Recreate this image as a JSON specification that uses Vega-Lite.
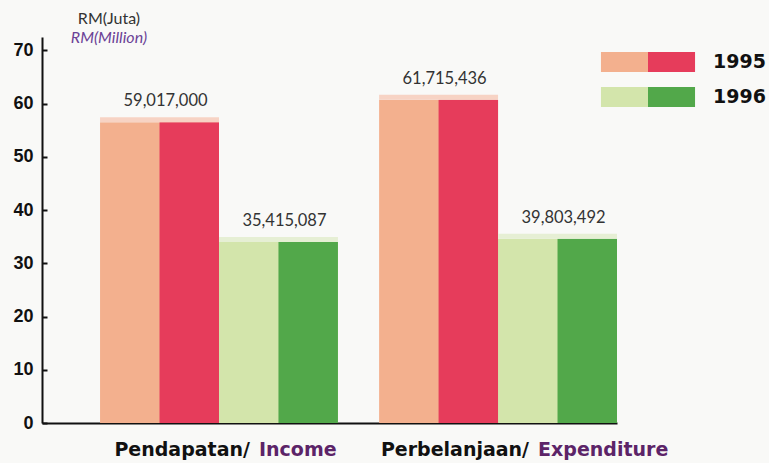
{
  "$schema": "https://vega.github.io/schema/vega-lite/v6.json",
  "width": 575,
  "height": 386,
  "autosize": {"type": "none"},
  "padding": {"left": 42, "top": 37, "right": 152, "bottom": 40},
  "background": "#f9f9f7",
  "config": {"view": {"stroke": null}, "axis": {"grid": false}},
  "title": {
    "text": "RM(Juta)",
    "subtitle": "RM(Million)",
    "frame": "group",
    "anchor": "start",
    "align": "center",
    "dx": 67,
    "offset": -9,
    "font": "Lato",
    "fontSize": 16,
    "fontWeight": "normal",
    "color": "#333333",
    "subtitleFont": "Lato",
    "subtitleFontSize": 16,
    "subtitleFontStyle": "italic",
    "subtitleColor": "#6b4296",
    "subtitlePadding": 3
  },
  "datasets": {
    "bars": [
      {"kategori": "Pendapatan", "year": "1995", "bar": 56.5, "amount": 59017000},
      {"kategori": "Pendapatan", "year": "1996", "bar": 34.0, "amount": 35415087},
      {"kategori": "Perbelanjaan", "year": "1995", "bar": 60.7, "amount": 61715436},
      {"kategori": "Perbelanjaan", "year": "1996", "bar": 34.6, "amount": 39803492}
    ],
    "labels": [
      {"kategori": "Pendapatan", "ms": "Pendapatan/", "en": "Income"},
      {"kategori": "Perbelanjaan", "ms": "Perbelanjaan/", "en": "Expenditure"}
    ]
  },
  "layer": [
    {
      "data": {"name": "bars"},
      "mark": {"type": "bar"},
      "encoding": {
        "x": {"field": "kategori", "type": "nominal", "sort": ["Pendapatan", "Perbelanjaan"],
          "scale": {"paddingInner": 0.1475, "paddingOuter": 0.104, "align": 1},
          "axis": {"title": null, "labels": false, "ticks": false, "domainColor": "#111111", "domainWidth": 2}},
        "xOffset": {"field": "year", "type": "nominal", "scale": {"paddingInner": 0, "paddingOuter": 0}},
        "y": {"field": "bar", "type": "quantitative", "scale": {"domain": [0, 72.5], "nice": false},
          "axis": {"title": null, "values": [0, 10, 20, 30, 40, 50, 60, 70], "tickSize": -5, "tickWidth": 2,
            "tickColor": "#111111", "domainColor": "#111111", "domainWidth": 2,
            "labelFont": "Liberation Sans", "labelFontSize": 18, "labelFontWeight": "bold",
            "labelColor": "#111111", "labelPadding": 14}},
        "color": {"field": "year", "type": "nominal",
          "scale": {"domain": ["1995", "1996"], "range": ["#f3b08e", "#d3e5ab"]},
          "legend": {"orient": "none", "legendX": 582, "legendY": 1, "title": null,
            "symbolType": "M-1.96,-0.42H0V0.42H-1.96Z", "symbolSize": 2304, "symbolStrokeWidth": 0,
            "symbolOpacity": 1, "labelExpr": "''", "rowPadding": 0, "padding": 0,
            "labelOffset": 41, "labelFontSize": 19}}
      }
    },
    {
      "data": {"name": "bars"},
      "mark": {"type": "bar", "width": {"band": 0.5}, "xOffset": 29.7},
      "encoding": {
        "x": {"field": "kategori", "type": "nominal", "sort": ["Pendapatan", "Perbelanjaan"]},
        "xOffset": {"field": "year", "type": "nominal"},
        "y": {"field": "bar", "type": "quantitative"},
        "color": {"field": "year", "type": "nominal",
          "scale": {"domain": ["1995", "1996"], "range": ["#e63c5b", "#52a84a"]},
          "legend": {"orient": "none", "legendX": 582, "legendY": 1, "title": null,
            "symbolType": "M0,-0.42H1.96V0.42H0Z", "symbolSize": 2304, "symbolStrokeWidth": 0,
            "symbolOpacity": 1, "rowPadding": 0, "padding": 0,
            "labelOffset": 41, "labelFont": "DejaVu Sans", "labelFontWeight": "bold",
            "labelFontSize": 19, "labelColor": "#111111"}}
      }
    },
    {
      "data": {"name": "bars"},
      "mark": {"type": "bar", "yOffset": -5, "y2Offset": 0},
      "encoding": {
        "x": {"field": "kategori", "type": "nominal", "sort": ["Pendapatan", "Perbelanjaan"]},
        "xOffset": {"field": "year", "type": "nominal"},
        "y": {"field": "bar", "type": "quantitative"},
        "y2": {"field": "bar"},
        "color": {"field": "year", "type": "nominal",
          "scale": {"domain": ["1995", "1996"], "range": ["#f7d3c4", "#e6efd4"]},
          "legend": null}
      }
    },
    {
      "data": {"name": "bars"},
      "mark": {"type": "text", "font": "Lato", "fontSize": 16.5, "color": "#333333", "dy": -16, "dx": 6, "baseline": "alphabetic"},
      "encoding": {
        "x": {"field": "kategori", "type": "nominal", "sort": ["Pendapatan", "Perbelanjaan"]},
        "xOffset": {"field": "year", "type": "nominal"},
        "y": {"field": "bar", "type": "quantitative"},
        "text": {"field": "amount", "type": "quantitative", "format": ","}
      }
    },
    {
      "data": {"name": "labels"},
      "mark": {"type": "text", "font": "DejaVu Sans", "fontWeight": "bold", "fontSize": 19, "color": "#111111",
        "align": "right", "baseline": "alphabetic", "dx": 31, "dy": 33},
      "encoding": {
        "x": {"field": "kategori", "type": "nominal", "sort": ["Pendapatan", "Perbelanjaan"]},
        "y": {"datum": 0, "type": "quantitative"},
        "text": {"field": "ms"}
      }
    },
    {
      "data": {"name": "labels"},
      "mark": {"type": "text", "font": "DejaVu Sans", "fontWeight": "bold", "fontSize": 19, "color": "#5c2468",
        "align": "left", "baseline": "alphabetic", "dx": 40, "dy": 33},
      "encoding": {
        "x": {"field": "kategori", "type": "nominal", "sort": ["Pendapatan", "Perbelanjaan"]},
        "y": {"datum": 0, "type": "quantitative"},
        "text": {"field": "en"}
      }
    }
  ],
  "resolve": {"scale": {"color": "independent"}, "legend": {"color": "independent"}}
}
